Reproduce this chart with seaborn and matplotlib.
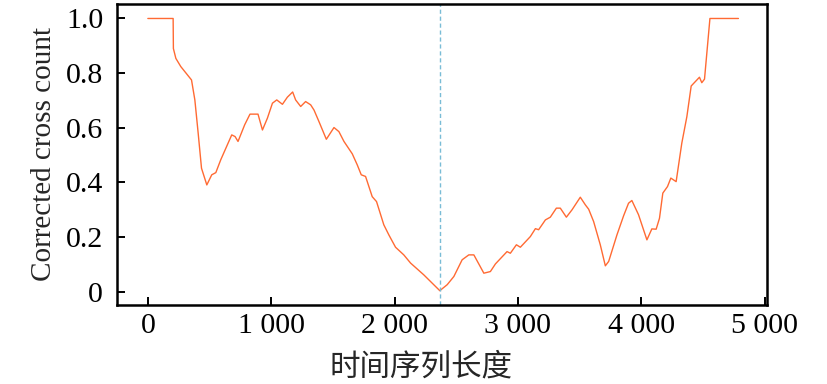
import pandas as pd
import matplotlib
matplotlib.use('Agg')
import matplotlib.pyplot as plt
import matplotlib.ticker as mticker
import seaborn as sns

# Valores
comprimento = [0, 205, 207, 227, 267, 354, 381, 408, 435, 478, 518, 551, 591, 680, 707,
               731, 785, 828, 893, 929, 969, 1010, 1045, 1091, 1131, 1174, 1198, 1239,
               1279, 1320, 1347, 1387, 1447, 1509, 1549, 1590, 1657, 1698, 1730, 1765,
               1819, 1854, 1913, 1954, 2008, 2075, 2130, 2237, 2367, 2427, 2481, 2548,
               2602, 2643, 2724, 2777, 2818, 2912, 2939, 2988, 3020, 3101, 3142, 3168,
               3223, 3263, 3312, 3344, 3393, 3439, 3506, 3547, 3574, 3614, 3668, 3709,
               3736, 3803, 3857, 3897, 3924, 3978, 4046, 4086, 4121, 4148, 4175, 4213,
               4240, 4283, 4329, 4370, 4405, 4472, 4491, 4513, 4557, 4788]
contagem = [1.0, 1.0, 0.89, 0.854, 0.824, 0.775, 0.702, 0.58, 0.452, 0.391, 0.428, 0.436,
            0.483, 0.574, 0.568, 0.55, 0.611, 0.65, 0.65, 0.592, 0.635, 0.69, 0.702, 0.686,
            0.712, 0.731, 0.702, 0.678, 0.696, 0.684, 0.665, 0.623, 0.558, 0.601, 0.586,
            0.55, 0.505, 0.464, 0.428, 0.422, 0.348, 0.33, 0.245, 0.208, 0.163, 0.135,
            0.105, 0.062, 0.004, 0.026, 0.056, 0.117, 0.135, 0.135, 0.068, 0.074, 0.102,
            0.147, 0.141, 0.172, 0.163, 0.202, 0.231, 0.227, 0.263, 0.273, 0.306, 0.306,
            0.273, 0.3, 0.346, 0.318, 0.302, 0.257, 0.172, 0.095, 0.111, 0.208, 0.278,
            0.324, 0.334, 0.282, 0.19, 0.23, 0.229, 0.269, 0.361, 0.385, 0.416, 0.403,
            0.544, 0.641, 0.753, 0.785, 0.765, 0.778, 1.0, 1.0]
PONTO_CORTE = 2367
xticks = [0, 1000, 2000, 3000, 4000, 5000]
yticks = [0, 0.2, 0.4, 0.6, 0.8, 1.0]

df = pd.DataFrame({'x': comprimento, 'y': contagem})

sns.set_theme(style="ticks")
plt.rcParams['font.family'] = ['Liberation Serif', 'DejaVu Serif']
plt.rcParams['font.size'] = 21

fig, ax = plt.subplots(figsize=(8.27, 3.84), dpi=100)
fig.subplots_adjust(left=0.1415, right=0.9275, top=0.9896, bottom=0.206)

sns.lineplot(data=df, x='x', y='y', color='#ff6a33', linewidth=1.0, ax=ax)
ax.axvline(PONTO_CORTE, color='#79bcd6', linestyle=(0, (3, 2)), linewidth=1.0)

ax.set_xlim(-250, 5020)
ax.set_ylim(-0.048, 1.053)
ax.set_xticks(xticks)
ax.set_yticks(yticks)
ax.xaxis.set_major_formatter(mticker.FuncFormatter(
    lambda v, p: '0' if v == 0 else f'{int(v) // 1000} {int(v) % 1000:03d}'))
ax.yaxis.set_major_formatter(mticker.FuncFormatter(
    lambda v, p: '0' if v == 0 else f'{v:.1f}'))

for s in ax.spines.values():
    s.set_linewidth(1.8)
    s.set_color('black')
ax.tick_params(direction='in', length=6, width=1.4, labelsize=21.5, colors='black')
ax.tick_params(axis='y', pad=10)
ax.tick_params(axis='x', pad=6)

ax.set_xlabel('时间序列长度', fontsize=22, labelpad=5,
              family=['Noto Sans CJK SC', 'DejaVu Sans'])
ax.xaxis.set_label_coords(0.468, -0.155, transform=ax.transAxes)
ax.xaxis.label.set_va('top')
ax.set_ylabel('Corrected cross count', fontsize=21, labelpad=6)

plt.savefig('out.png', dpi=100)
